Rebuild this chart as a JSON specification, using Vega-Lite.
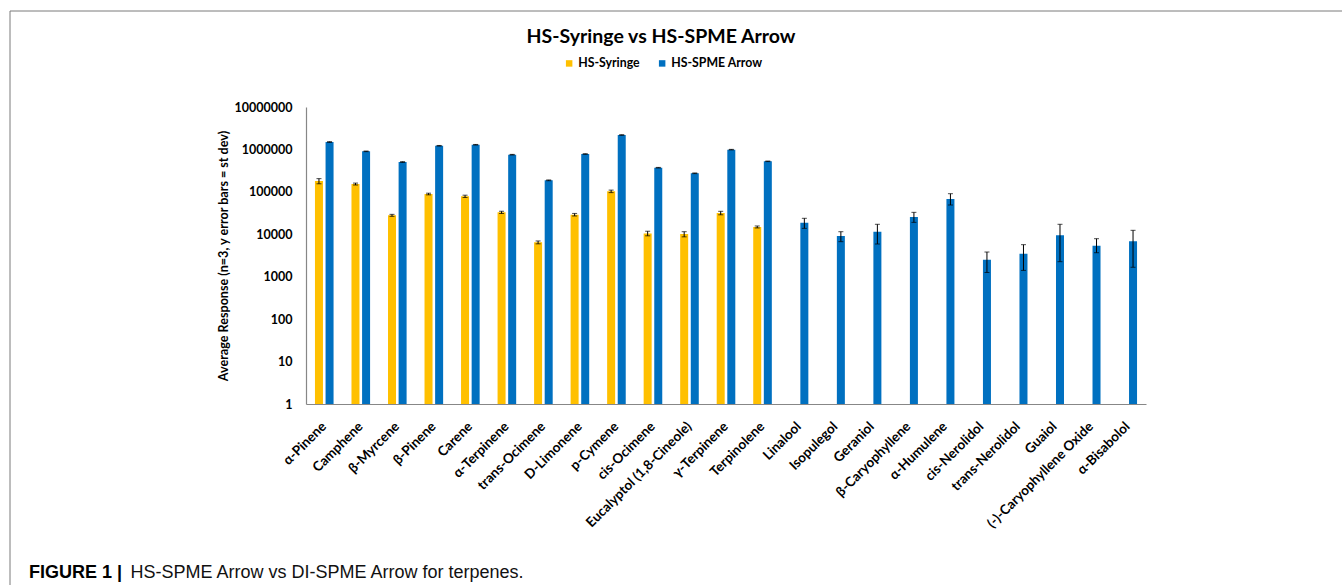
{
  "$schema": "https://vega.github.io/schema/vega-lite/v6.json",
  "width": 840,
  "height": 297,
  "autosize": {"type": "none"},
  "padding": {"left": 306, "top": 107, "right": 196, "bottom": 181},
  "background": "white",
  "title": {
    "text": "HS-Syringe vs HS-SPME Arrow",
    "font": "Lato",
    "fontSize": 19.5,
    "fontWeight": "bold",
    "color": "#000000",
    "anchor": "middle",
    "frame": "group",
    "baseline": "alphabetic",
    "dx": -65,
    "offset": -52
  },
  "config": {
    "view": {"stroke": null},
    "axis": {"grid": false, "ticks": false, "domainColor": "#878787", "domainWidth": 1.2}
  },
  "data": {
    "values": [
      {"compound": "α-Pinene", "series": "HS-Syringe", "value": 180000, "lo": 155000, "hi": 205000},
      {"compound": "α-Pinene", "series": "HS-SPME Arrow", "value": 1496000, "lo": 1466000, "hi": 1526000},
      {"compound": "Camphene", "series": "HS-Syringe", "value": 153000, "lo": 145000, "hi": 161000},
      {"compound": "Camphene", "series": "HS-SPME Arrow", "value": 902000, "lo": 887000, "hi": 917000},
      {"compound": "β-Myrcene", "series": "HS-Syringe", "value": 28000, "lo": 26500, "hi": 29500},
      {"compound": "β-Myrcene", "series": "HS-SPME Arrow", "value": 505000, "lo": 495000, "hi": 515000},
      {"compound": "β-Pinene", "series": "HS-Syringe", "value": 89000, "lo": 85000, "hi": 93000},
      {"compound": "β-Pinene", "series": "HS-SPME Arrow", "value": 1220000, "lo": 1200000, "hi": 1240000},
      {"compound": "Carene", "series": "HS-Syringe", "value": 78500, "lo": 73500, "hi": 83500},
      {"compound": "Carene", "series": "HS-SPME Arrow", "value": 1290000, "lo": 1270000, "hi": 1310000},
      {"compound": "α-Terpinene", "series": "HS-Syringe", "value": 32900, "lo": 30900, "hi": 34900},
      {"compound": "α-Terpinene", "series": "HS-SPME Arrow", "value": 752000, "lo": 740000, "hi": 764000},
      {"compound": "trans-Ocimene", "series": "HS-Syringe", "value": 6460, "lo": 5960, "hi": 6960},
      {"compound": "trans-Ocimene", "series": "HS-SPME Arrow", "value": 187000, "lo": 183000, "hi": 191000},
      {"compound": "D-Limonene", "series": "HS-Syringe", "value": 29000, "lo": 27000, "hi": 31000},
      {"compound": "D-Limonene", "series": "HS-SPME Arrow", "value": 780000, "lo": 768000, "hi": 792000},
      {"compound": "p-Cymene", "series": "HS-Syringe", "value": 103000, "lo": 96000, "hi": 110000},
      {"compound": "p-Cymene", "series": "HS-SPME Arrow", "value": 2190000, "lo": 2160000, "hi": 2220000},
      {"compound": "cis-Ocimene", "series": "HS-Syringe", "value": 10500, "lo": 9200, "hi": 11800},
      {"compound": "cis-Ocimene", "series": "HS-SPME Arrow", "value": 371000, "lo": 365000, "hi": 377000},
      {"compound": "Eucalyptol (1,8-Cineole)", "series": "HS-Syringe", "value": 10100, "lo": 8700, "hi": 11500},
      {"compound": "Eucalyptol (1,8-Cineole)", "series": "HS-SPME Arrow", "value": 274000, "lo": 269000, "hi": 279000},
      {"compound": "γ-Terpinene", "series": "HS-Syringe", "value": 31800, "lo": 28800, "hi": 34800},
      {"compound": "γ-Terpinene", "series": "HS-SPME Arrow", "value": 988000, "lo": 973000, "hi": 1003000},
      {"compound": "Terpinolene", "series": "HS-Syringe", "value": 14900, "lo": 14100, "hi": 15700},
      {"compound": "Terpinolene", "series": "HS-SPME Arrow", "value": 525000, "lo": 517000, "hi": 533000},
      {"compound": "Linalool", "series": "HS-SPME Arrow", "value": 18700, "lo": 13800, "hi": 23800},
      {"compound": "Isopulegol", "series": "HS-SPME Arrow", "value": 9100, "lo": 6700, "hi": 11500},
      {"compound": "Geraniol", "series": "HS-SPME Arrow", "value": 11500, "lo": 5900, "hi": 17200},
      {"compound": "β-Caryophyllene", "series": "HS-SPME Arrow", "value": 25500, "lo": 19100, "hi": 32900},
      {"compound": "α-Humulene", "series": "HS-SPME Arrow", "value": 68000, "lo": 49000, "hi": 90500},
      {"compound": "cis-Nerolidol", "series": "HS-SPME Arrow", "value": 2520, "lo": 1260, "hi": 3820},
      {"compound": "trans-Nerolidol", "series": "HS-SPME Arrow", "value": 3480, "lo": 1410, "hi": 5690},
      {"compound": "Guaiol", "series": "HS-SPME Arrow", "value": 9460, "lo": 2260, "hi": 17200},
      {"compound": "(-)-Caryophyllene Oxide", "series": "HS-SPME Arrow", "value": 5380, "lo": 3680, "hi": 7870},
      {"compound": "α-Bisabolol", "series": "HS-SPME Arrow", "value": 6830, "lo": 1670, "hi": 12400}
    ]
  },
  "encoding": {
    "x": {
      "field": "compound",
      "type": "nominal",
      "sort": ["α-Pinene", "Camphene", "β-Myrcene", "β-Pinene", "Carene", "α-Terpinene", "trans-Ocimene", "D-Limonene", "p-Cymene", "cis-Ocimene", "Eucalyptol (1,8-Cineole)", "γ-Terpinene", "Terpinolene", "Linalool", "Isopulegol", "Geraniol", "β-Caryophyllene", "α-Humulene", "cis-Nerolidol", "trans-Nerolidol", "Guaiol", "(-)-Caryophyllene Oxide", "α-Bisabolol"],
      "scale": {"paddingInner": 0, "paddingOuter": 0},
      "axis": {
        "labelAngle": -45,
        "labelAlign": "right",
        "labelBaseline": "middle",
        "labelPadding": 20,
        "labelFont": "Lato",
        "labelFontSize": 13.5,
        "labelFontWeight": "bold",
        "labelColor": "#000000",
        "labelLimit": 300,
        "title": "HS-SPME Arrow vs DI-SPME Arrow for terpenes.",
        "titleFont": "Liberation Sans",
        "titleFontSize": 18,
        "titleFontWeight": "normal",
        "titleColor": "#111111",
        "titleAnchor": "start",
        "titleAlign": "left",
        "titleBaseline": "alphabetic",
        "titleX": -176,
        "titleY": 173
      }
    },
    "xOffset": {
      "field": "series",
      "type": "nominal",
      "sort": ["HS-Syringe", "HS-SPME Arrow"],
      "scale": {"paddingInner": 0.245, "paddingOuter": 0.845}
    }
  },
  "layer": [
    {
      "mark": {"type": "bar", "stroke": null},
      "encoding": {
        "y": {
          "field": "value",
          "type": "quantitative",
          "title": "Average Response (n=3, y error bars = st dev)",
          "scale": {"type": "log", "domain": [1, 10000000]},
          "axis": {
            "values": [1, 10, 100, 1000, 10000, 100000, 1000000, 10000000],
            "format": "d",
            "labelFont": "Lato",
            "labelFontSize": 12.5,
            "labelFontWeight": "bold",
            "labelColor": "#000000",
            "labelPadding": 14,
            "titleFont": "Lato",
            "titleFontSize": 12.6,
            "titleFontWeight": "bold",
            "titleColor": "#000000",
            "titlePadding": 4
          }
        },
        "y2": {"datum": 1},
        "color": {
          "field": "series",
          "type": "nominal",
          "scale": {"domain": ["HS-Syringe", "HS-SPME Arrow"], "range": ["#FFC000", "#0070C0"]},
          "legend": {
            "title": null,
            "orient": "none",
            "direction": "horizontal",
            "legendX": 257,
            "legendY": -50,
            "symbolType": "square",
            "symbolSize": 42,
            "symbolStrokeWidth": 0,
            "labelFont": "Lato",
            "labelFontSize": 12.3,
            "labelFontWeight": "bold",
            "labelColor": "#000000",
            "labelOffset": 3,
            "columnPadding": 16
          }
        }
      }
    },
    {
      "mark": {"type": "rule", "color": "#000000", "strokeWidth": 1},
      "encoding": {
        "y": {"field": "lo", "type": "quantitative", "title": "Average Response (n=3, y error bars = st dev)"},
        "y2": {"field": "hi"}
      }
    },
    {
      "mark": {"type": "tick", "size": 5, "thickness": 1},
      "encoding": {
        "y": {"field": "lo", "type": "quantitative", "title": "Average Response (n=3, y error bars = st dev)"},
        "fill": {
          "datum": 0,
          "type": "quantitative",
          "scale": {"domain": [0, 1], "range": ["#000000", "#000000"]},
          "legend": {
            "type": "gradient",
            "orient": "none",
            "direction": "horizontal",
            "legendX": -296.5,
            "legendY": -96.5,
            "gradientLength": 1500,
            "gradientThickness": 700,
            "gradientOpacity": 0,
            "gradientStrokeWidth": 0,
            "labels": false,
            "title": null,
            "strokeColor": "#7a7a7a",
            "padding": 0
          }
        }
      }
    },
    {
      "mark": {"type": "tick", "size": 5, "thickness": 1, "color": "#000000"},
      "encoding": {
        "y": {"field": "hi", "type": "quantitative", "title": "Average Response (n=3, y error bars = st dev)"},
        "strokeDash": {
          "datum": "c",
          "scale": {"range": [[1, 0]]},
          "legend": {
            "orient": "none",
            "legendX": -277,
            "legendY": 457,
            "title": "FIGURE 1 |",
            "titleFont": "Liberation Sans",
            "titleFontSize": 18,
            "titleFontWeight": "bold",
            "titleColor": "#000000",
            "titlePadding": 0,
            "labelExpr": "''",
            "symbolOpacity": 0,
            "symbolStrokeWidth": 0,
            "padding": 0
          }
        }
      }
    }
  ]
}
